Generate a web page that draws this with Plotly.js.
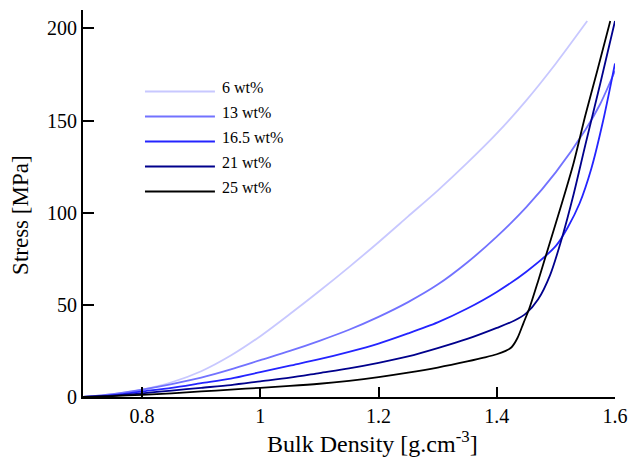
<!DOCTYPE html>
<html>
<head>
<meta charset="utf-8">
<script src="https://cdn.plot.ly/plotly-3.0.1.min.js"></script>
<style>html,body{margin:0;padding:0;background:#fff;}#chart{width:631px;height:459px;}</style>
</head>
<body>
<div id="chart"></div>
<script>
// Series names
const seriesNames = ["6 wt%", "13 wt%", "16.5 wt%", "21 wt%", "25 wt%"];

// 6 wt%
const x6 = [0.7, 0.75, 0.8, 0.85, 0.9, 0.95, 1.0, 1.05, 1.1, 1.15, 1.2, 1.25, 1.3, 1.35, 1.4, 1.45, 1.5, 1.553];
const y6 = [0, 1.5, 4, 8, 14, 22.5, 33, 45, 57.5, 70.5, 84, 98, 112, 127, 143, 161, 181, 204];

// 13 wt%
const x13 = [0.7, 0.75, 0.8, 0.85, 0.9, 0.95, 1.0, 1.05, 1.1, 1.15, 1.2, 1.25, 1.3, 1.35, 1.4, 1.45, 1.5, 1.55, 1.575, 1.6];
const y13 = [0, 1.5, 4, 7, 10.5, 15, 20, 25, 30.5, 36.5, 43.5, 51.5, 61, 73, 87, 103, 122, 145, 159, 177];

// 16.5 wt%
const x165 = [0.7, 0.75, 0.8, 0.85, 0.9, 0.95, 1.0, 1.05, 1.1, 1.15, 1.2, 1.25, 1.3, 1.35, 1.4, 1.45, 1.5, 1.52, 1.54, 1.56, 1.58, 1.6];
const y165 = [0, 1, 3, 5, 7.5, 10, 13.5, 17, 20.5, 24.5, 29, 34.5, 40.5, 48, 57, 68, 82, 92, 105, 124, 150, 181];

// 21 wt%
const x21 = [0.7, 0.75, 0.8, 0.85, 0.9, 0.95, 1.0, 1.05, 1.1, 1.15, 1.2, 1.25, 1.3, 1.35, 1.4, 1.43, 1.45, 1.47, 1.49, 1.51, 1.53, 1.55, 1.575, 1.6];
const y21 = [0, 0.8, 2, 3.5, 5, 6.5, 8.5, 10.5, 13, 15.5, 18.5, 22, 26.5, 31.5, 37.5, 41.5, 45.5, 53, 66, 86, 110, 137, 170, 204];

// 25 wt%
const x25 = [0.7, 0.75, 0.8, 0.85, 0.9, 0.95, 1.0, 1.05, 1.1, 1.15, 1.2, 1.25, 1.3, 1.35, 1.38, 1.4, 1.415, 1.425, 1.435, 1.445, 1.455, 1.47, 1.49, 1.51, 1.53, 1.55, 1.57, 1.592];
const y25 = [0, 0.5, 1.2, 2, 3, 4, 5, 6, 7.2, 8.8, 10.8, 13.2, 16, 19.3, 21.5, 23.2, 25, 27, 32, 40, 48, 63, 84, 105, 127, 153, 177, 204];

// Axis ticks and titles
const xTicks = [0.8, 1, 1.2, 1.4, 1.6];
const yTicks = [0, 50, 100, 150, 200];
const xTitle = "Bulk Density [g.cm<sup>-3</sup>]";
const yTitle = "Stress [MPa]";

const colors = ["#c8c8ff", "#7272ff", "#2424ff", "#00008c", "#000000"];
const xs = [x6, x13, x165, x21, x25];
const ys = [y6, y13, y165, y21, y25];

const traces = seriesNames.map((n, i) => ({
  x: xs[i], y: ys[i], name: n, type: "scatter", mode: "lines", showlegend: false,
  line: {color: colors[i], width: 1.8, shape: "spline", smoothing: 0.8}
}));

// manual legend (long line samples as in the reference)
const legX0 = 0.1165, legX1 = 0.248, legTextX = 0.258;
const legY = [0.7894, 0.7248, 0.6602, 0.5956, 0.5310];
const serif = "Liberation Serif, Times New Roman, serif";
const shapes = seriesNames.map((n, i) => ({
  type: "line", xref: "paper", yref: "paper", x0: legX0, x1: legX1, y0: legY[i], y1: legY[i],
  line: {color: colors[i], width: 1.8}
}));
const annotations = seriesNames.map((n, i) => ({
  xref: "paper", yref: "paper", x: legTextX, y: legY[i], xanchor: "left", yanchor: "middle",
  yshift: 4, text: n, showarrow: false, font: {family: serif, size: 16, color: "#000"}
}));
// axis titles (placed like the reference)
annotations.push({
  xref: "paper", yref: "paper", x: 0.545, y: -0.117, xanchor: "center", yanchor: "middle",
  text: xTitle, showarrow: false, font: {family: serif, size: 24, color: "#000"}
});
annotations.push({
  xref: "paper", yref: "paper", x: -0.1165, y: 0.468, xanchor: "center", yanchor: "middle",
  textangle: -90, text: yTitle, showarrow: false, font: {family: serif, size: 23, color: "#000"}
});

const layout = {
  width: 631, height: 459,
  margin: {l: 83, r: 16, t: 10, b: 62},
  paper_bgcolor: "#fff", plot_bgcolor: "#fff",
  font: {family: serif, color: "#000", size: 20},
  showlegend: false,
  shapes: shapes, annotations: annotations,
  xaxis: {
    range: [0.7, 1.6], tickvals: xTicks, ticktext: xTicks.map(String),
    showgrid: false, zeroline: false, showline: true, linecolor: "#000", linewidth: 2,
    ticks: "inside", ticklen: 10, tickwidth: 2, tickcolor: "#000",
    tickfont: {family: serif, size: 20}, fixedrange: true
  },
  yaxis: {
    range: [0, 210], tickvals: yTicks,
    showgrid: false, zeroline: false, showline: true, linecolor: "#000", linewidth: 2,
    ticks: "inside", ticklen: 11, tickwidth: 2, tickcolor: "#000",
    tickfont: {family: serif, size: 20}, fixedrange: true
  }
};

Plotly.newPlot("chart", traces, layout, {displayModeBar: false, staticPlot: true});
</script>
</body>
</html>
